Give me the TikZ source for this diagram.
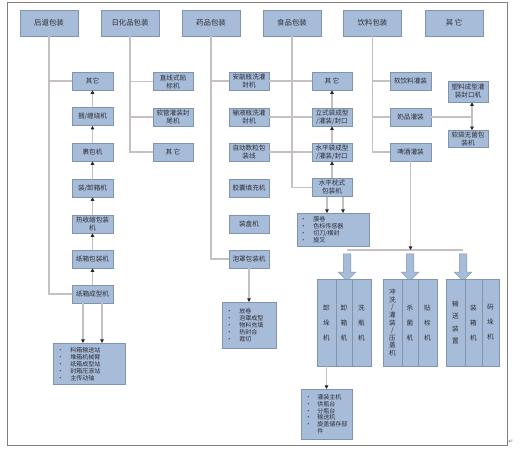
\documentclass[tikz,border=0pt]{standalone}
\usepackage{fontspec}
\setmainfont{Noto Sans CJK SC}
\newfontfamily\symfont{DejaVu Sans}
\usetikzlibrary{arrows.meta,shapes.arrows,calc}

\definecolor{boxfill}{RGB}{167,188,216}
\definecolor{boxline}{RGB}{128,148,176}
\definecolor{linkgray}{RGB}{198,192,192}
\definecolor{txt}{RGB}{45,45,55}
\newcommand{\li}[2][13pt]{\makebox[#1][l]{\textbullet}#2}

\begin{document}
\begin{tikzpicture}[
  x=1pt, y=-1pt,
  font=\fontsize{6.6}{8}\selectfont,
  >={Triangle[length=3.5pt,width=3.5pt,color=black!85]},
  box/.style={draw=boxline, fill=boxfill, line width=0.6pt, text=txt, align=center,
              inner sep=0pt, minimum width=41pt, minimum height=18pt},
  cat/.style={box, minimum width=58pt, minimum height=26pt, font=\fontsize{7.4}{9}\selectfont},
  col/.style={box, minimum height=87pt, font=\fontsize{6.6}{15}\selectfont},
  lst/.style={box, align=left, anchor=north west, inner xsep=4pt, inner ysep=3pt,
              font=\fontsize{6}{7}\selectfont},
  link/.style={draw=linkgray, line width=1.2pt},
  flow/.style={link, ->},
  bigarrow/.style={single arrow, shape border rotate=270, draw=boxline, fill=boxfill,
                   line width=0.5pt, minimum height=27pt, minimum width=17pt,
                   inner sep=3.5pt, single arrow head extend=5pt},
]
\useasboundingbox (0,0) rectangle (520,457);
\draw[black!50, line width=0.8pt] (7,2) rectangle (507,445);
\node[font=\symfont\fontsize{6}{6}\selectfont, text=black!55] (pm) at (511,442) {↵};

% ---- categories ----
\node[cat] (hd) at (49,23)    {后道包装};
\node[cat] (rh) at (130,23)   {日化品包装};
\node[cat] (yp) at (211,23)   {药品包装};
\node[cat] (sp) at (292,23)   {食品包装};
\node[cat] (yl) at (372.5,23) {饮料包装};
\node[cat] (qt) at (454,23)   {其\ 它};

% ---- 后道包装 ----
\node[box] (hq) at (92.5,81)    {其它};
\node[box] (hk) at (92.5,116.5) {捆/缠绕机};
\node[box] (hb) at (92.5,152)   {裹包机};
\node[box] (hz) at (92.5,188)   {装/卸箱机};
\node[box] (hr) at (92.5,224)   {热收缩包装\\机};
\node[box] (hx) at (92.5,259)   {纸箱包装机};
\node[box] (hc) at (92.5,294)   {纸箱成型机};
\node[lst, text width=64pt, minimum height=41pt] (hl) at (53,343)
  {\li{料箱输送站}\\\li{堆箱机械臂}\\\li{纸箱成型站}\\\li{封箱压滚站}\\\li{主传动轴}};

% ---- 日化品包装 ----
\node[box, minimum width=40pt] (rh1) at (173,81.5) {直线式贴\\标机};
\node[box, minimum width=40pt] (rh2) at (173,117)  {软管灌装封\\尾机};
\node[box, minimum width=40pt] (rh3) at (173,152)  {其\ 它};

% ---- 药品包装 ----
\node[box, minimum width=40pt] (yp1) at (249,81)  {安瓿瓶洗灌\\封机};
\node[box, minimum width=40pt] (yp2) at (249,117) {输液瓶洗灌\\封机};
\node[box, minimum width=40pt] (yp3) at (249,152) {自动数粒包\\装线};
\node[box, minimum width=40pt] (yp4) at (249,188) {胶囊填充机};
\node[box, minimum width=40pt] (yp5) at (249,224) {装盒机};
\node[box, minimum width=40pt] (yp6) at (249,259) {泡罩包装机};
\node[lst, text width=46pt, minimum height=46pt] (ypl) at (222,302)
  {\li{放卷}\\\li{泡罩成型}\\\li{物料充填}\\\li{热封合}\\\li{裁切}};

% ---- 食品包装 ----
\node[box, minimum width=40pt] (sp1) at (332,81)    {其\ 它};
\node[box, minimum width=40pt] (sp2) at (332,117)   {立式袋成型\\/灌装/封口};
\node[box, minimum width=40pt] (sp3) at (332,152)   {水平袋成型\\/灌装/封口};
\node[box, minimum width=40pt] (sp4) at (332,187.5) {水平枕式\\包装机};
\node[lst, inner xsep=3pt, text width=66pt, minimum height=33pt] (spl) at (297,213)
  {\li{膜卷}\\\li{色标传感器}\\\li{切刀/横封}\\\li{旋叉}};

% ---- 饮料包装 ----
\node[box] (yl1) at (410.5,81)  {软饮料灌装};
\node[box] (yl2) at (410.5,117) {奶品灌装};
\node[box] (yl3) at (410.5,152) {啤酒灌装};
\node[box, minimum width=40pt, minimum height=21pt] (sl) at (468,91.5) {塑料成型灌\\装封口机};
\node[box, minimum width=40pt, minimum height=17pt] (rd) at (468,139)  {软袋无菌包\\装机};
\coordinate (jn) at (472,117);
\coordinate (bl) at (347,250);
\coordinate (br) at (463,250);
\node[bigarrow] (ba1) at (347,265.5) {};
\node[bigarrow] (ba2) at (410,265.5) {};
\node[bigarrow] (ba3) at (463,265.5) {};

\node[col, minimum width=19pt] (g11) at (326.5,322.5) {卸\\垛\\机};
\node[col, minimum width=16pt] (g12) at (344,322.5)   {卸\\箱\\机};
\node[col, minimum width=19pt] (g13) at (361.5,322.5) {洗\\瓶\\机};
\node[col, minimum width=19pt, font=\fontsize{6.6}{7.6}\selectfont] (g21) at (392.5,322.5)
  {冲\\洗\\/\\灌\\装\\/\\压\\盖\\机};
\node[col, minimum width=16pt] (g22) at (410,322.5)   {杀\\菌\\机};
\node[col, minimum width=19pt] (g23) at (427.5,322.5) {贴\\标\\机};
\node[col, minimum width=19pt, font=\fontsize{6.6}{12.5}\selectfont] (g31) at (455.5,322.5)
  {输\\送\\装\\置};
\node[col, minimum width=17pt] (g32) at (473.5,322.5) {装\\箱\\机};
\node[col, minimum width=17pt] (g33) at (490.5,322.5) {码\\垛\\机};
\node[lst, text width=43pt, minimum height=50pt, font=\fontsize{6}{6.7}\selectfont] (gl) at (301,389)
  {\li[12pt]{灌装主机}\\\li[12pt]{供瓶台}\\\li[12pt]{分瓶台}\\\li[12pt]{输送机}\\\li[12pt]{旋盖储存部}\\\hspace*{12pt}件};

% ---- links ----
\draw[link] (hd.south) |- (hc.west);
\draw[link] (hd.south |- hq.west) -- (hq.west);
\draw[flow] (hk) -- (hq);
\draw[flow] (hb) -- (hk);
\draw[flow] (hz) -- (hb);
\draw[flow] (hr) -- (hz);
\draw[flow] (hx) -- (hr);
\draw[flow] (hc) -- (hx);
\draw[flow] ([xshift=-9.5pt]hc.south) -- ([xshift=-9.5pt]hc.south |- hl.north);
\draw[flow] ([xshift=9.5pt]hc.south) -- ([xshift=9.5pt]hc.south |- hl.north);

\draw[link] (rh.south) |- (rh3.west);
\draw[link] (rh.south |- rh1.west) -- (rh1.west);
\draw[link] (rh.south |- rh2.west) -- (rh2.west);

\draw[link] (yp.south) |- (yp6.west);
\draw[link] (yp.south |- yp1.west) -- (yp1.west);
\draw[flow] (yp6.south) -- (yp6.south |- ypl.north);

\draw[link] (sp.south) |- (sp4.west);
\draw[link] (yp1.east) -- (sp1.west);
\draw[link] (yp2.east) -- (sp2.west);
\draw[link] (yp3.east) -- (sp3.west);
\draw[flow] (sp3) -- (sp2);
\draw[flow] (sp2) -- (sp1);
\draw[flow] (sp4) -- (sp3);
\draw[flow] ([xshift=-5pt]sp4.south) -- ([xshift=-5pt]sp4.south |- spl.north);
\draw[flow] ([xshift=11pt]sp4.south) -- ([xshift=11pt]sp4.south |- spl.north);

\draw[link] (yl.south) |- (yl3.west);
\draw[link] (yl.south |- yl1.west) -- (yl1.west);
\draw[link] (yl.south |- yl2.west) -- (yl2.west);
\draw[link] (yl2.east) -- (jn);
\draw[flow] (jn) -- (jn |- sl.south);
\draw[flow] (jn) -- (jn |- rd.north);
\draw[link] (bl) -- (br);
\draw[flow] (yl3.south) -- (yl3.south |- bl);
\draw[flow] (g11.south) -- (g11.south |- gl.north);
\end{tikzpicture}
\end{document}
